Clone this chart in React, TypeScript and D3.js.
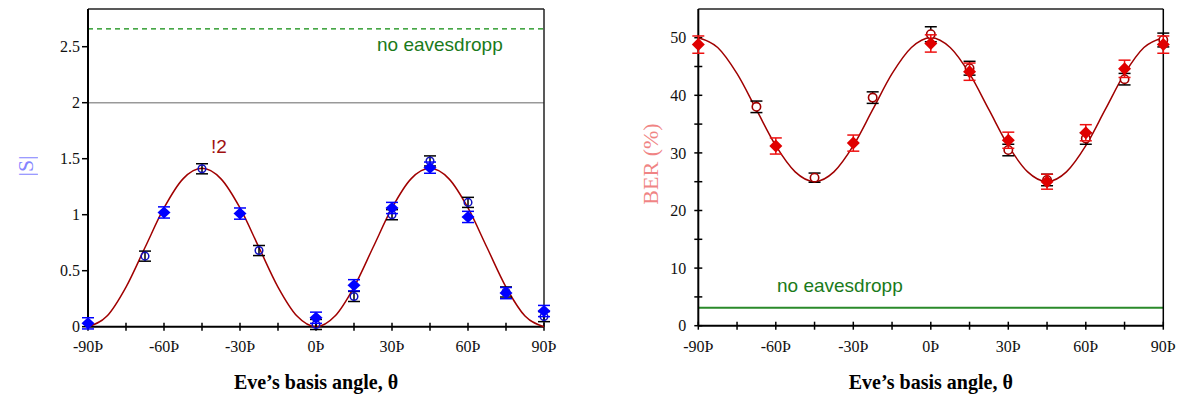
import React from 'react';
import * as d3 from 'd3';

// ---- data ----
const curveTheta = [-90, -82.5, -75, -67.5, -60, -52.5, -45, -37.5, -30, -22.5, -15, -7.5, 0, 7.5, 15, 22.5, 30, 37.5, 45, 52.5, 60, 67.5, 75, 82.5, 90];
const sCurve = [0, 0.095, 0.354, 0.707, 1.06, 1.32, 1.414, 1.32, 1.06, 0.707, 0.354, 0.095, 0, 0.095, 0.354, 0.707, 1.06, 1.32, 1.414, 1.32, 1.06, 0.707, 0.354, 0.095, 0];
const berCurve = [50, 48.3, 43.75, 37.5, 31.25, 26.7, 25, 26.7, 31.25, 37.5, 43.75, 48.3, 50, 48.3, 43.75, 37.5, 31.25, 26.7, 25, 26.7, 31.25, 37.5, 43.75, 48.3, 50];

const sDiamondTheta = [-90, -60, -30, 0, 15, 30, 45, 60, 75, 90];
const sDiamondValues = [0.03, 1.02, 1.01, 0.08, 0.37, 1.06, 1.42, 0.98, 0.3, 0.14];
const sDiamondErr = [0.05, 0.05, 0.05, 0.05, 0.05, 0.05, 0.05, 0.05, 0.05, 0.05];
const sCircleTheta = [-67.5, -45, -22.5, 0, 15, 30, 45, 60, 75, 90];
const sCircleValues = [0.63, 1.41, 0.68, 0.02, 0.27, 1.0, 1.48, 1.11, 0.31, 0.09];
const sCircleErr = [0.045, 0.045, 0.045, 0.045, 0.045, 0.045, 0.045, 0.045, 0.045, 0.045];

const berDiamondTheta = [-90, -60, -30, 0, 15, 30, 45, 60, 75, 90];
const berDiamondValues = [48.8, 31.2, 31.7, 49.0, 44.1, 32.2, 25.0, 33.5, 44.6, 48.8];
const berDiamondErr = [1.5, 1.4, 1.4, 1.5, 1.5, 1.4, 1.3, 1.4, 1.5, 1.5];
const berCircleTheta = [-67.5, -45, -22.5, 0, 15, 30, 45, 60, 75, 90];
const berCircleValues = [38.0, 25.7, 39.6, 50.6, 44.7, 30.5, 25.3, 32.5, 42.8, 49.6];
const berCircleErr = [1.0, 0.8, 1.0, 1.3, 1.2, 1.0, 1.0, 1.0, 1.0, 1.2];

const xTickValues = [-90, -75, -60, -45, -30, -15, 0, 15, 30, 45, 60, 75, 90];
const xTickLabels = ['-90Þ', '-60Þ', '-30Þ', '0Þ', '30Þ', '60Þ', '90Þ'];
const xLabelValues = [-90, -60, -30, 0, 30, 60, 90];
const sTicks = [0, 0.5, 1, 1.5, 2, 2.5];
const sTickLabels = ['0', '0.5', '1', '1.5', '2', '2.5'];
const berTicks = [0, 10, 20, 30, 40, 50];
const berMinorTicks = [0, 5, 10, 15, 20, 25, 30, 35, 40, 45, 50];

const xTitle = 'Eve\u2019s basis angle, \u03b8';
const eaveText = 'no eavesdropp';

const SERIF = '"Liberation Serif", "Times New Roman", serif';
const SANS = '"Liberation Sans", Arial, sans-serif';

function diamondPath(cx: number, cy: number, w: number, h: number) {
  return `M${cx},${cy - h}L${cx + w},${cy}L${cx},${cy + h}L${cx - w},${cy}Z`;
}

function ErrorBars({ xs, ys, errs, x, y, color }: any) {
  return (
    <g stroke={color} strokeWidth={1.5}>
      {xs.map((t: number, i: number) => {
        const cx = x(t);
        const y1 = y(ys[i] + errs[i]);
        const y2 = y(ys[i] - errs[i]);
        return (
          <g key={i}>
            <line x1={cx} x2={cx} y1={y1} y2={y2} />
            <line x1={cx - 6} x2={cx + 6} y1={y1} y2={y1} />
            <line x1={cx - 6} x2={cx + 6} y1={y2} y2={y2} />
          </g>
        );
      })}
    </g>
  );
}

export default function App() {
  // Left panel
  const xL = d3.scaleLinear().domain([-90, 90]).range([88, 544]);
  const yL = d3.scaleLinear().domain([0, 2.5]).range([326.7, 46.7]);
  const yLTop = 9;
  // Right panel
  const xR = d3.scaleLinear().domain([-90, 90]).range([698.3, 1163.3]);
  const yR = d3.scaleLinear().domain([0, 50]).range([325.7, 37.7]);
  const yRTop = 9;

  const lineL = d3.line<number>().x((d, i) => xL(curveTheta[i])).y((d) => yL(d)).curve(d3.curveMonotoneX);
  const lineR = d3.line<number>().x((d, i) => xR(curveTheta[i])).y((d) => yR(d)).curve(d3.curveMonotoneX);

  const curveColor = '#a00000';

  return (
    <svg width={1185} height={396} style={{ position: 'absolute', left: 0, top: 0, background: '#fff' }}>
      {/* ===== LEFT PANEL ===== */}
      <g>
        {/* reference lines */}
        <line x1={xL(-90)} x2={xL(90)} y1={yL(2)} y2={yL(2)} stroke="#999" strokeWidth={1.5} />
        <line x1={xL(-90)} x2={xL(90)} y1={yL(2.66)} y2={yL(2.66)} stroke="#0a8a0a" strokeWidth={1.3} strokeDasharray="5,4" />
        <text x={377} y={51} fontFamily={SANS} fontSize={19} fill="#1a7a1a">{eaveText}</text>
        <text x={211} y={153} fontFamily={SANS} fontSize={19} fill="#a01010">!2</text>

        {/* frame */}
        <line x1={xL(-90)} x2={xL(90)} y1={yLTop} y2={yLTop} stroke="#222" strokeWidth={1.5} />
        <line x1={xL(90)} x2={xL(90)} y1={yLTop} y2={yL(0)} stroke="#222" strokeWidth={1.5} />
        <line x1={xL(-90)} x2={xL(-90)} y1={yLTop} y2={yL(0)} stroke="#000" strokeWidth={2} />
        <line x1={xL(-90)} x2={xL(90)} y1={yL(0)} y2={yL(0)} stroke="#000" strokeWidth={2} />
        {sTicks.map((v, i) => (
          <g key={i}>
            <line x1={xL(-90) - 6} x2={xL(-90)} y1={yL(v)} y2={yL(v)} stroke="#000" strokeWidth={1.5} />
            <text x={xL(-90) - 8} y={yL(v)} dy="0.35em" textAnchor="end" fontFamily={SERIF} fontSize={16} fill="#111">{sTickLabels[i]}</text>
          </g>
        ))}
        {xTickValues.map((v, i) => (
          <line key={i} x1={xL(v)} x2={xL(v)} y1={yL(0) - 4} y2={yL(0) + 4} stroke="#000" strokeWidth={1.5} />
        ))}
        {xLabelValues.map((v, i) => (
          <text key={i} x={xL(v)} y={352} textAnchor="middle" fontFamily={SERIF} fontSize={16} fill="#111">{xTickLabels[i]}</text>
        ))}
        <text x={(xL(-90) + xL(90)) / 2} y={389} textAnchor="middle" fontFamily={SERIF} fontWeight="bold" fontSize={20} fill="#000">{xTitle}</text>
        <text transform="translate(33,166) rotate(-90)" textAnchor="middle" fontFamily={SERIF} fontSize={22} fill="#6f6fff" opacity={0.85}>|S|</text>

        {/* curve */}
        <path d={lineL(sCurve) || ''} fill="none" stroke={curveColor} strokeWidth={1.5} />

        {/* circles */}
        <ErrorBars xs={sCircleTheta} ys={sCircleValues} errs={sCircleErr} x={xL} y={yL} color="#000" />
        {sCircleTheta.map((t, i) => (
          <circle key={i} cx={xL(t)} cy={yL(sCircleValues[i])} r={3.8} fill="none" stroke="#1010c0" strokeWidth={1.5} />
        ))}
        {/* diamonds */}
        <ErrorBars xs={sDiamondTheta} ys={sDiamondValues} errs={sDiamondErr} x={xL} y={yL} color="#0000ff" />
        {sDiamondTheta.map((t, i) => (
          <path key={i} d={diamondPath(xL(t), yL(sDiamondValues[i]), 6.5, 6)} fill="#0000ff" />
        ))}
      </g>

      {/* ===== RIGHT PANEL ===== */}
      <g>
        <line x1={xR(-90)} x2={xR(90)} y1={yR(3.1)} y2={yR(3.1)} stroke="#2a8a2a" strokeWidth={2} />
        <text x={777} y={292} fontFamily={SANS} fontSize={19} fill="#1a7a1a">{eaveText}</text>

        <line x1={xR(-90)} x2={xR(90)} y1={yRTop} y2={yRTop} stroke="#222" strokeWidth={1.5} />
        <line x1={xR(90)} x2={xR(90)} y1={yRTop} y2={yR(0)} stroke="#000" strokeWidth={1.5} />
        <line x1={xR(-90)} x2={xR(-90)} y1={yRTop} y2={yR(0)} stroke="#000" strokeWidth={2} />
        <line x1={xR(-90)} x2={xR(90)} y1={yR(0)} y2={yR(0)} stroke="#000" strokeWidth={2} />
        {berMinorTicks.map((v, i) => (
          <line key={i} x1={xR(-90) - 4} x2={xR(-90) + 4} y1={yR(v)} y2={yR(v)} stroke="#000" strokeWidth={1.5} />
        ))}
        {berTicks.map((v, i) => (
          <text key={i} x={xR(-90) - 12} y={yR(v)} dy="0.35em" textAnchor="end" fontFamily={SERIF} fontSize={16} fill="#111">{String(v)}</text>
        ))}
        {xTickValues.map((v, i) => (
          <line key={i} x1={xR(v)} x2={xR(v)} y1={yR(0) - 4} y2={yR(0) + 4} stroke="#000" strokeWidth={1.5} />
        ))}
        {xLabelValues.map((v, i) => (
          <text key={i} x={xR(v)} y={352} textAnchor="middle" fontFamily={SERIF} fontSize={16} fill="#111">{xTickLabels[i]}</text>
        ))}
        <text x={(xR(-90) + xR(90)) / 2} y={389} textAnchor="middle" fontFamily={SERIF} fontWeight="bold" fontSize={20} fill="#000">{xTitle}</text>
        <text transform="translate(658,164) rotate(-90)" textAnchor="middle" fontFamily={SERIF} fontSize={22} fill="#ee6f6f" opacity={0.85}>BER (%)</text>

        <path d={lineR(berCurve) || ''} fill="none" stroke={curveColor} strokeWidth={1.5} />

        <ErrorBars xs={berCircleTheta} ys={berCircleValues} errs={berCircleErr} x={xR} y={yR} color="#000" />
        {berCircleTheta.map((t, i) => (
          <circle key={i} cx={xR(t)} cy={yR(berCircleValues[i])} r={4.2} fill="#fff" stroke="#a00000" strokeWidth={1.6} />
        ))}
        <ErrorBars xs={berDiamondTheta} ys={berDiamondValues} errs={berDiamondErr} x={xR} y={yR} color="#ee1010" />
        {berDiamondTheta.map((t, i) => (
          <path key={i} d={diamondPath(xR(t), yR(berDiamondValues[i]), 6.5, 6.5)} fill="#e00000" />
        ))}
      </g>
    </svg>
  );
}
